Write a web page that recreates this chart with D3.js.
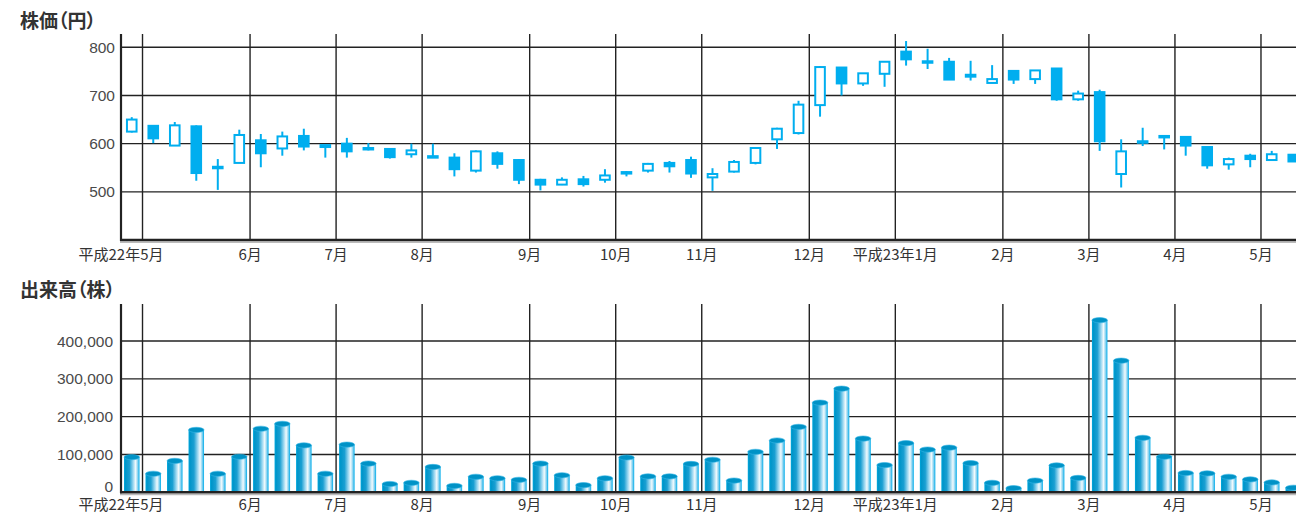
<!DOCTYPE html>
<html lang="ja">
<head>
<meta charset="utf-8">
<script src="https://cdn.jsdelivr.net/npm/d3@7"></script>
<style>
  html, body { margin: 0; padding: 0; background: #fff; }
  svg { display: block; }
  .title { font-family: "Noto Sans CJK JP", sans-serif; font-weight: 700; font-size: 19px; fill: #333; font-feature-settings: "palt"; }
  .ytick { font-family: "Liberation Sans", Arial, sans-serif; font-size: 15.5px; fill: #4a4a4a; }
  .month { font-family: "Noto Sans CJK JP", sans-serif; font-size: 15px; fill: #333; }
</style>
</head>
<body>
<svg id="chart" width="1296" height="514"></svg>
<script>
// Weekly stock data, week of Apr 26 2010 through week of May 9 2011
const open  = [625,637,596,636,550,560,607,590,616,597, 600,591,589,578,574,571,544,580,566,525,
               515,526,525,541,544,560,566,530,542,560, 609,622,680,758,725,745,791,771,770,739,
               726,751,734,756,692,707,537,605,614,614, 593,557,575,566,577];
const high  = [655,638,645,638,568,629,620,625,631,597, 612,601,589,600,600,580,586,584,568,527,
               530,533,547,543,560,564,573,549,566,593, 633,689,761,758,746,770,813,797,778,772,
               763,751,752,757,710,712,609,633,617,614, 593,571,579,585,577];
const low   = [623,601,596,523,504,560,551,575,586,571, 571,586,569,571,573,532,540,548,516,503,
               514,511,519,532,540,540,529,502,540,557, 589,619,656,700,720,718,762,755,733,731,
               726,724,724,689,689,585,509,595,588,575, 548,546,551,566,563];
const close = [650,611,638,539,552,618,580,615,594,593, 584,588,572,586,573,547,584,558,525,515,
               525,516,534,539,558,553,538,537,562,591, 631,681,759,725,746,770,775,768,733,743,
               734,733,752,692,704,605,584,602,616,596, 555,568,568,578,563];
const volume = [93000,49000,83000,165000,49000,94000,168000,181000,124000,49000,
                126000,76000,22000,25000,67000,17000,41000,37000,33000,76000,
                45000,19000,37000,92000,42000,42000,75000,86000,31000,107000,
                137000,173000,237000,274000,142000,72000,130000,113000,118000,77000,
                25000,11000,31000,71000,38000,455000,348000,144000,94000,51000,
                50000,41000,34000,26000,12000];

// First week of each month (index into the weekly arrays) and its label
const monthStart  = [1,6,10,14,19,23,27,32,36,41,45,49,53];
const monthLabels = ["平成22年5月","6月","7月","8月","9月","10月","11月","12月","平成23年1月","2月","3月","4月","5月"];

const priceTicks  = [500,600,700,800];
const volumeTicks = [0,100000,200000,300000,400000];

const svg = d3.select("#chart");
const W = 1296;
const CYAN = "#00aeef";
const GRID = "#222";

const x = d3.scaleBand().domain(d3.range(open.length)).range([121, 1304]);
const step = x.step();
const cx = i => x(i) + step / 2;

// ---------- Price panel ----------
const yP = d3.scaleLinear().domain([400, 800]).range([240, 47.3]);
const pTop = 34, pBottom = 240;

svg.append("text").attr("class", "title").attr("x", 20).attr("y", 28).text("株価（円）");

const gP = svg.append("g");
gP.selectAll("line.hgrid").data(priceTicks).join("line")
  .attr("x1", 121).attr("x2", W).attr("y1", d => yP(d)).attr("y2", d => yP(d))
  .attr("stroke", GRID).attr("stroke-width", 1.4);
gP.selectAll("line.vgrid").data(monthStart).join("line")
  .attr("x1", d => x(d)).attr("x2", d => x(d)).attr("y1", pTop).attr("y2", pBottom)
  .attr("stroke", GRID).attr("stroke-width", 1.4);
gP.selectAll("text.ytick").data(priceTicks).join("text")
  .attr("class", "ytick").attr("x", 115).attr("y", d => yP(d)).attr("dy", "0.36em")
  .attr("text-anchor", "end").text(d => d);

// candles: wick from high to low, body from open to close (hollow when the week closed up)
const candles = gP.selectAll("g.candle").data(d3.range(open.length)).join("g");
candles.append("line")
  .attr("x1", cx).attr("x2", cx)
  .attr("y1", i => yP(high[i])).attr("y2", i => yP(low[i]))
  .attr("stroke", CYAN).attr("stroke-width", 2);
candles.append("rect")
  .attr("x", i => cx(i) - 4.8)
  .attr("width", 9.6)
  .attr("y", i => yP(Math.max(open[i], close[i])))
  .attr("height", i => Math.max(1.5, Math.abs(yP(open[i]) - yP(close[i]))))
  .attr("fill", i => close[i] >= open[i] ? "#fff" : CYAN)
  .attr("stroke", CYAN).attr("stroke-width", 2);

// axes frame
gP.append("line").attr("x1", 121).attr("x2", 121).attr("y1", pTop).attr("y2", pBottom + 1)
  .attr("stroke", GRID).attr("stroke-width", 2.2);
gP.append("line").attr("x1", 120).attr("x2", W).attr("y1", pBottom + 2.2).attr("y2", pBottom + 2.2)
  .attr("stroke", "#bbb").attr("stroke-width", 1.5);
gP.append("line").attr("x1", 120).attr("x2", W).attr("y1", pBottom).attr("y2", pBottom)
  .attr("stroke", GRID).attr("stroke-width", 2.6);

gP.selectAll("text.month").data(monthStart).join("text")
  .attr("class", "month")
  .attr("x", (d, k) => k === 0 ? x(0) : x(d))
  .attr("y", 260).attr("text-anchor", "middle")
  .text((d, k) => monthLabels[k]);

// ---------- Volume panel ----------
const yV = d3.scaleLinear().domain([0, 400000]).range([492.3, 341]);
const vTop = 304, vBottom = 492.3;

svg.append("text").attr("class", "title").attr("x", 20).attr("y", 297).text("出来高（株）");

const defs = svg.append("defs");
const grad = defs.append("linearGradient").attr("id", "cyl").attr("x1", 0).attr("x2", 1).attr("y1", 0).attr("y2", 0);
[[0, "#00a9df"], [0.1, "#0095c9"], [0.35, "#1a9fd2"], [0.6, "#9fd9f1"], [0.75, "#f2fafd"],
 [0.88, "#8ad3f0"], [1, "#00acea"]].forEach(([o, c]) =>
  grad.append("stop").attr("offset", o).attr("stop-color", c));

const gV = svg.append("g");
gV.selectAll("line.hgrid").data(volumeTicks.slice(1)).join("line")
  .attr("x1", 121).attr("x2", W).attr("y1", d => yV(d)).attr("y2", d => yV(d))
  .attr("stroke", GRID).attr("stroke-width", 1.4);
gV.selectAll("line.vgrid").data(monthStart).join("line")
  .attr("x1", d => x(d)).attr("x2", d => x(d)).attr("y1", vTop).attr("y2", vBottom)
  .attr("stroke", GRID).attr("stroke-width", 1.4);
gV.selectAll("text.ytick").data(volumeTicks).join("text")
  .attr("class", "ytick").attr("x", 113).attr("y", d => yV(d)).attr("dy", d => d === 0 ? "-0.05em" : "0.36em")
  .attr("text-anchor", "end").text(d => d3.format(",")(d));

// cylinder-style volume bars
const bw = step * 0.72;
const bars = gV.selectAll("g.bar").data(d3.range(volume.length)).join("g");
bars.append("rect")
  .attr("x", i => cx(i) - bw / 2).attr("width", bw)
  .attr("y", i => yV(volume[i])).attr("height", i => yV(0) - yV(volume[i]))
  .attr("fill", "url(#cyl)");
bars.append("ellipse")
  .attr("cx", cx).attr("cy", i => yV(volume[i]))
  .attr("rx", bw / 2).attr("ry", 2.6)
  .attr("fill", "#0092c6").attr("stroke", "#33b5e6").attr("stroke-width", 0.6);

gV.append("line").attr("x1", 121).attr("x2", 121).attr("y1", vTop).attr("y2", vBottom + 1)
  .attr("stroke", GRID).attr("stroke-width", 2.2);
gV.append("line").attr("x1", 120).attr("x2", W).attr("y1", vBottom + 2.2).attr("y2", vBottom + 2.2)
  .attr("stroke", "#bbb").attr("stroke-width", 1.5);
gV.append("line").attr("x1", 120).attr("x2", W).attr("y1", vBottom).attr("y2", vBottom)
  .attr("stroke", GRID).attr("stroke-width", 2.6);

gV.selectAll("text.month").data(monthStart).join("text")
  .attr("class", "month")
  .attr("x", (d, k) => k === 0 ? x(0) : x(d))
  .attr("y", 510).attr("text-anchor", "middle")
  .text((d, k) => monthLabels[k]);
</script>
</body>
</html>
